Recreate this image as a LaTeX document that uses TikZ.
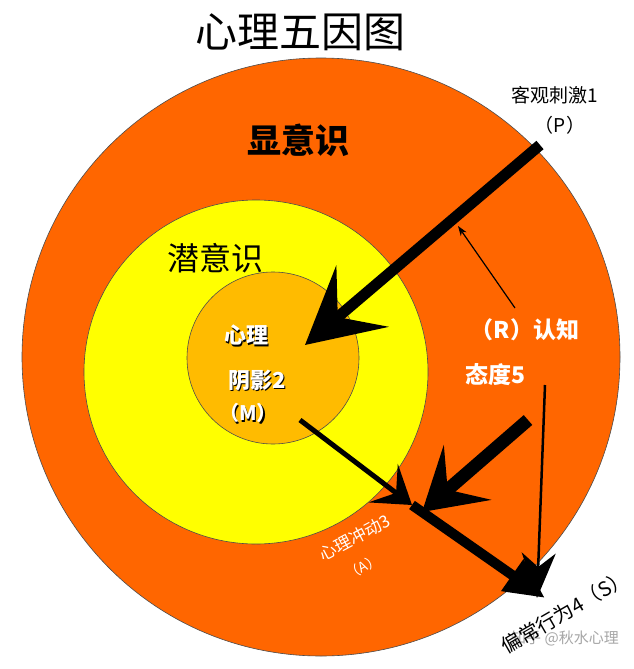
\documentclass[tikz,border=0pt]{standalone}
\usepackage{fontspec}
\newfontfamily\cjk{Noto Sans CJK SC}
\usetikzlibrary{arrows.meta}
\definecolor{outerc}{HTML}{FF6600}
\definecolor{midc}{HTML}{FFFF00}
\definecolor{innerc}{HTML}{FFBB00}
\tikzset{
 ring/.style={draw=black!70,line width=0.6pt},
 lbl/.style={font=\cjk,text=black},
 shadowtxt/.style={font=\cjk\bfseries,text=white},
}
\begin{document}
\begin{tikzpicture}[x=1pt,y=-1pt]
\useasboundingbox (0,0) rectangle (633,669);
\fill[white] (0,0) rectangle (633,669);
\node[lbl,font=\cjk\fontsize{42}{42}\selectfont] (title) at (300,32) {心理五因图};
\draw[ring,fill=outerc] (321,357) circle (299);
\draw[ring,fill=midc] (256,372) circle (172);
\draw[ring,fill=innerc] (273,358) circle (86);
\node[lbl,font=\cjk\bfseries\fontsize{34}{34}\selectfont] (xian) at (298,140) {显意识};
\node[lbl,font=\cjk\fontsize{32}{32}\selectfont] (qian) at (215,258) {潜意识};
\node[shadowtxt,text=black,font=\cjk\bfseries\fontsize{22}{22}\selectfont] at (247.5,336.5) {心理};
\node[shadowtxt,font=\cjk\bfseries\fontsize{22}{22}\selectfont] (xl) at (246,335) {心理};
\node[shadowtxt,text=black,font=\cjk\bfseries\fontsize{22}{22}\selectfont] at (258.5,381.5) {阴影2};
\node[shadowtxt,font=\cjk\bfseries\fontsize{22}{22}\selectfont] (yy) at (257,380) {阴影2};
\node[shadowtxt,text=black,font=\cjk\bfseries\fontsize{20}{20}\selectfont] at (249.5,414.5) {（M）};
\node[shadowtxt,font=\cjk\bfseries\fontsize{20}{20}\selectfont] (m) at (248,413) {（M）};
\node[lbl,font=\cjk\fontsize{19}{19}\selectfont] (p1) at (555,95) {客观刺激1};
\node[lbl,font=\cjk\fontsize{19}{19}\selectfont] (p2) at (560,125) {（P）};
\node[lbl,text=white,font=\cjk\bfseries\fontsize{23}{23}\selectfont] (r1) at (525,330) {（R）认知};
\node[lbl,text=white,font=\cjk\bfseries\fontsize{23}{23}\selectfont] (r2) at (495,375) {态度5};
\node[lbl,text=white,font=\cjk\fontsize{17}{17}\selectfont,rotate=28] (a1) at (355,538) {心理冲动3};
\node[lbl,text=white,font=\cjk\fontsize{14}{14}\selectfont,rotate=28] (a2) at (363,567) {（A）};
\node[lbl,text=black!35,font=\cjk\fontsize{15}{15}\selectfont] (wm) at (565,638) {知乎 @秋水心理};
\node[lbl,font=\cjk\fontsize{20}{20}\selectfont,rotate=30] (s) at (565,612) {偏常行为4（S）};
\coordinate (pS) at (540,145);
\coordinate (pE) at (305,345);
\coordinate (aP) at (412,505);
\coordinate (sP) at (545,598);
\draw[line width=11pt,-{Stealth[length=75pt,width=80pt,inset=32pt]}] (pS) -- (pE);
\draw[line width=1.2pt,-{Stealth[length=10pt,width=7pt]}] (515,308) -- (458,226);
\draw[line width=5pt,-{Stealth[length=36pt,width=48pt,inset=16pt]}] (300,420) -- (aP);
\draw[line width=13pt,-{Stealth[length=60pt,width=72pt,inset=26pt]}] (528,420) -- (422,512);
\draw[line width=10pt,-{Triangle[length=40pt,width=36pt]}] (aP) -- (sP);
\draw[line width=2.5pt,-{Stealth[length=45pt,width=34pt,inset=14pt]}] (545,385) -- (537,598);
\end{tikzpicture}
\end{document}
